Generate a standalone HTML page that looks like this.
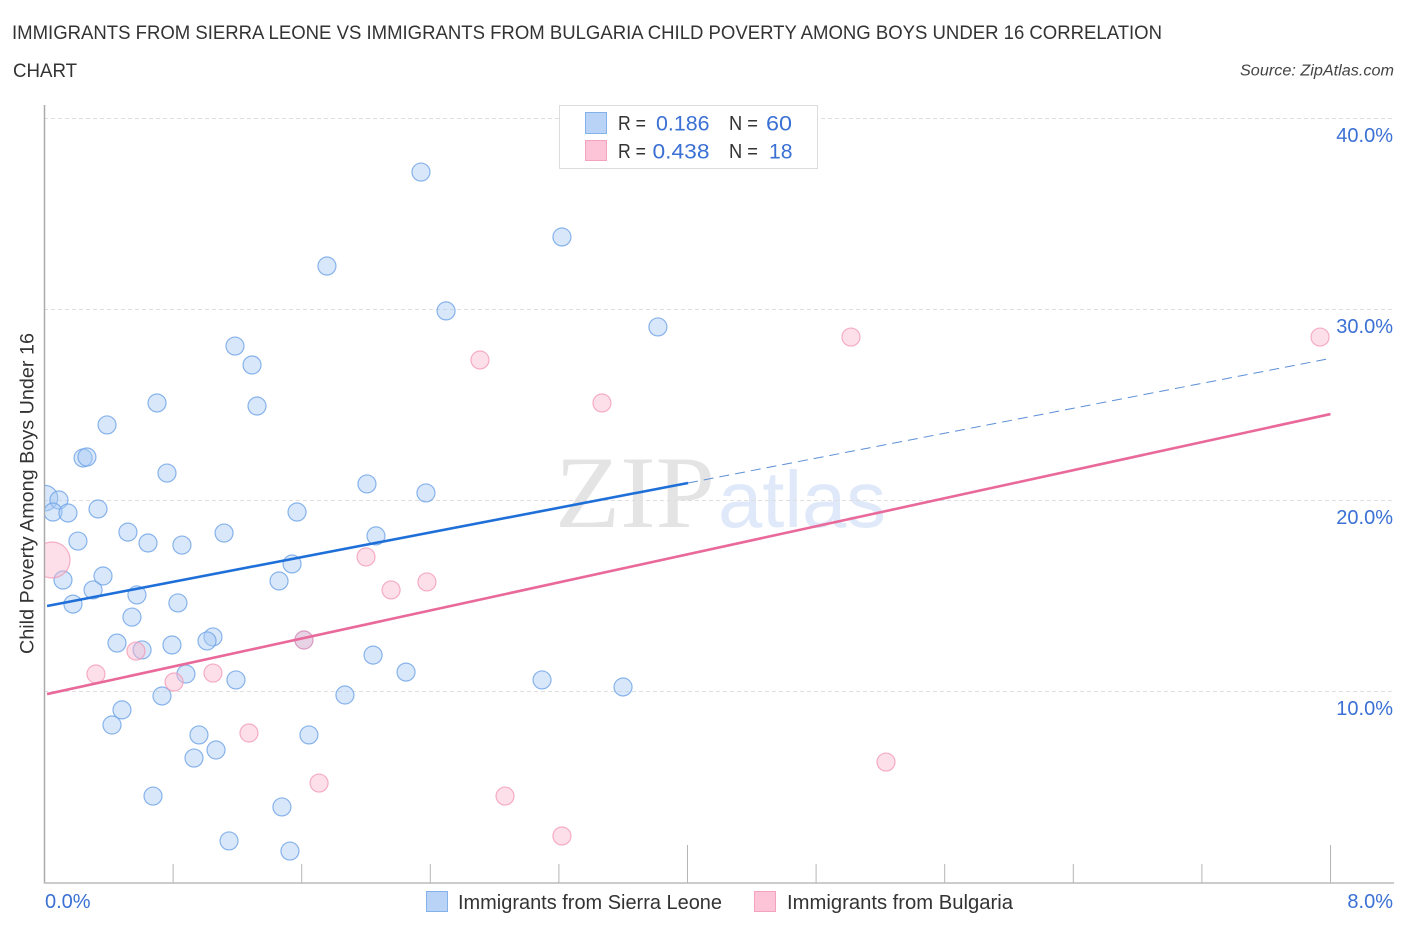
<!DOCTYPE html>
<html lang="en">
<head>
<meta charset="utf-8">
<title>Immigrants from Sierra Leone vs Immigrants from Bulgaria Child Poverty</title>
<style>
html,body{margin:0;padding:0;background:#fff;}
svg{display:block;font-family:"Liberation Sans",sans-serif;}
</style>
</head>
<body>
<svg id="chart" width="1406" height="930" viewBox="0 0 1406 930" xmlns="http://www.w3.org/2000/svg">
  <defs>
    <clipPath id="plot-clip"><rect x="45" y="100" width="1360" height="783"/></clipPath>
  </defs>
  <rect x="0" y="0" width="1406" height="930" fill="#ffffff"/>
  <g>
    <text x="555" y="527" font-family="'Liberation Serif',serif" font-size="103" fill="#e4e4e4" textLength="160" lengthAdjust="spacingAndGlyphs">ZIP</text>
    <text x="718" y="527" font-size="80" fill="#dfe9f9" textLength="168" lengthAdjust="spacingAndGlyphs">atlas</text>
  </g>
  <g id="grid"></g>
  <g id="axes"></g>
  <g id="points-blue" clip-path="url(#plot-clip)"></g>
  <g id="points-pink" clip-path="url(#plot-clip)"></g>
  <g id="trends"></g>
  <g id="labels"></g>

  <g fill="#333333" font-size="19.5">
    <text x="12" y="39" textLength="1150" lengthAdjust="spacingAndGlyphs">IMMIGRANTS FROM SIERRA LEONE VS IMMIGRANTS FROM BULGARIA CHILD POVERTY AMONG BOYS UNDER 16 CORRELATION</text>
    <text x="13" y="77" textLength="64" lengthAdjust="spacingAndGlyphs">CHART</text>
  </g>
  <text x="1394" y="75.5" text-anchor="end" font-style="italic" font-size="15.5" fill="#444444" textLength="154" lengthAdjust="spacingAndGlyphs">Source: ZipAtlas.com</text>
  <text transform="translate(33.5,654) rotate(-90)" font-size="19.5" fill="#333333" textLength="321" lengthAdjust="spacingAndGlyphs">Child Poverty Among Boys Under 16</text>

  <g>
    <rect x="559.5" y="105.5" width="258" height="63" fill="#ffffff" stroke="#dddddd" stroke-width="1"/>
    <rect x="585.5" y="112.5" width="21" height="21" fill="#b9d3f6" stroke="#85b1ea" stroke-width="1"/>
    <rect x="585.5" y="140.5" width="21" height="20" fill="#fcc4d6" stroke="#f3a3bd" stroke-width="1"/>
    <g font-size="20" fill="#333333">
      <text x="618" y="130" textLength="28" lengthAdjust="spacingAndGlyphs">R =</text>
      <text x="618" y="158" textLength="28" lengthAdjust="spacingAndGlyphs">R =</text>
      <text x="729" y="130" textLength="29" lengthAdjust="spacingAndGlyphs">N =</text>
      <text x="729" y="158" textLength="29" lengthAdjust="spacingAndGlyphs">N =</text>
    </g>
    <g font-size="21.5" fill="#3b70d4">
      <text x="656" y="130.5" textLength="53.5" lengthAdjust="spacingAndGlyphs">0.186</text>
      <text x="652.5" y="158.5" textLength="57" lengthAdjust="spacingAndGlyphs">0.438</text>
      <text x="766" y="130.5" textLength="26" lengthAdjust="spacingAndGlyphs">60</text>
      <text x="769" y="158.5" textLength="23.5" lengthAdjust="spacingAndGlyphs">18</text>
    </g>
  </g>

  <g>
    <g>
      <rect x="426.5" y="891.5" width="21" height="20" fill="#b9d3f6" stroke="#85b1ea" stroke-width="1"/>
      <text x="458" y="909" font-size="20" fill="#333333" textLength="264" lengthAdjust="spacingAndGlyphs">Immigrants from Sierra Leone</text>
    </g>
    <g>
      <rect x="754.5" y="891.5" width="21" height="20" fill="#fcc4d6" stroke="#f3a3bd" stroke-width="1"/>
      <text x="787" y="909" font-size="20" fill="#333333" textLength="226" lengthAdjust="spacingAndGlyphs">Immigrants from Bulgaria</text>
    </g>
  </g>
</svg>
<script>
// Data (x = share of immigrants %, y = child poverty %)
const blueX = [2.342,3.219,1.757,2.498,3.816,1.185,1.291,0.700,1.322,0.389,0.240,0.264,0.762,2.006,2.373,0.003,0.090,0.053,0.146,0.333,1.571,0.519,1.117,2.062,0.208,0.644,0.855,1.540,0.364,0.115,1.459,0.302,0.575,0.177,0.830,0.544,1.048,0.451,0.607,0.793,1.011,1.614,2.044,2.249,0.880,1.191,3.095,3.599,1.869,0.731,0.482,0.420,0.961,1.645,1.067,0.930,0.675,1.477,1.148,1.527];
const blueY = [37.17,33.77,32.25,29.90,29.06,28.06,27.07,25.08,24.92,23.93,22.20,22.25,21.41,20.84,20.37,20.10,20.00,19.37,19.32,19.53,19.37,18.32,18.27,18.12,17.85,17.75,17.64,16.65,16.02,15.81,15.76,15.29,15.03,14.55,14.61,13.87,12.83,12.51,12.15,12.41,12.62,12.67,11.88,10.99,10.89,10.58,10.58,10.21,9.79,9.74,9.01,8.22,7.70,7.70,6.91,6.49,4.50,3.93,2.15,1.62];
const pinkX = [7.935,5.017,2.709,3.468,0.047,2.000,2.156,2.379,1.614,0.569,0.320,1.048,0.806,1.272,1.708,2.865,5.235,3.219];
const pinkY = [28.53,28.53,27.33,25.08,16.86,17.02,15.29,15.71,12.67,12.09,10.89,10.94,10.47,7.80,5.18,4.50,6.28,2.41];
// Relative sample weight of each point, listed only where it is not 1 (index: weight)
const blueWeights = {15: 2};
const pinkWeights = {4: 4};
const blueTrendX = [0.016, 4.003];
const blueTrendY = [14.45, 20.89];
const blueForecastX = [4.003, 7.98];
const blueForecastY = [20.89, 27.38];
const pinkTrendX = [0.016, 8.0];
const pinkTrendY = [9.84, 24.50];
const yTicks = [10, 20, 30, 40];
const yTickLabels = ["10.0%", "20.0%", "30.0%", "40.0%"];
const xTicks = [0.8, 1.6, 2.4, 3.2, 4.0, 4.8, 5.6, 6.4, 7.2, 8.0];
const xMajorTicks = [4.0, 8.0];
const xEndLabels = ["0.0%", "8.0%"];

const NS = "http://www.w3.org/2000/svg";
function xScale(v){ return 44.5 + v * 160.75; }
function yScale(v){ return 882 - v * 19.1; }
function radius(w){ return 9 * Math.sqrt(w); }
function make(tag, parentId, attrs){
  const el = document.createElementNS(NS, tag);
  for (const k in attrs) el.setAttribute(k, attrs[k]);
  document.getElementById(parentId).appendChild(el);
  return el;
}

yTicks.forEach(function(t){
  const gy = Math.round(yScale(t)) + 0.5;
  const line = make("line", "grid", {x1:44, x2:1394, y1:gy, y2:gy, stroke:"#dedede", "stroke-width":1, "stroke-dasharray":"4 3"});
  
  
});

const yAxis = make("line", "axes", {x1:44.5, x2:44.5, y1:105, y2:883.5, stroke:"#aaaaaa", "stroke-width":1.5});


const xAxis = make("line", "axes", {x1:44, x2:1394, y1:883, y2:883, stroke:"#bbbbbb", "stroke-width":1.5});


xTicks.forEach(function(t){
  const major = xMajorTicks.indexOf(t) >= 0;
  const tick = make("line", "axes", {x1:xScale(t), x2:xScale(t), y1:major ? 845 : 864, y2:883, stroke:"#b5b5b5", "stroke-width":1});
  
  
});

blueX.forEach(function(v, i){
  const c = make("circle", "points-blue", {cx:xScale(v), cy:yScale(blueY[i]), r:radius(blueWeights[i] || 1), fill:"#a9c9f3", "fill-opacity":0.45, stroke:"#6ea2e6", "stroke-opacity":0.8, "stroke-width":1.2});
  
  
});
pinkX.forEach(function(v, i){
  const c = make("circle", "points-pink", {cx:xScale(v), cy:yScale(pinkY[i]), r:radius(pinkWeights[i] || 1), fill:"#fab9ce", "fill-opacity":0.45, stroke:"#f195b3", "stroke-opacity":0.75, "stroke-width":1.2});
  
  
});

const blueTrend = make("line", "trends", {x1:xScale(blueTrendX[0]), y1:yScale(blueTrendY[0]), x2:xScale(blueTrendX[1]), y2:yScale(blueTrendY[1]), stroke:"#1f6fd8", "stroke-width":2.6});


const blueForecast = make("line", "trends", {x1:xScale(blueForecastX[0]), y1:yScale(blueForecastY[0]), x2:xScale(blueForecastX[1]), y2:yScale(blueForecastY[1]), stroke:"#5d8fd6", "stroke-width":1, "stroke-dasharray":"10 6"});


const pinkTrend = make("line", "trends", {x1:xScale(pinkTrendX[0]), y1:yScale(pinkTrendY[0]), x2:xScale(pinkTrendX[1]), y2:yScale(pinkTrendY[1]), stroke:"#e8699a", "stroke-width":2.6});



yTicks.forEach(function(t, i){
  const lab = make("text", "labels", {x:1393, y:yScale(t) + 24, "text-anchor":"end", "font-size":20, fill:"#3b70d4"});
  
  
  lab.textContent = yTickLabels[i];
});
const xStart = make("text", "labels", {x:45, y:908, "font-size":20, fill:"#3b70d4"});


xStart.textContent = xEndLabels[0];
const xEnd = make("text", "labels", {x:1393, y:908, "text-anchor":"end", "font-size":20, fill:"#3b70d4"});


xEnd.textContent = xEndLabels[1];
</script>
</body>
</html>
